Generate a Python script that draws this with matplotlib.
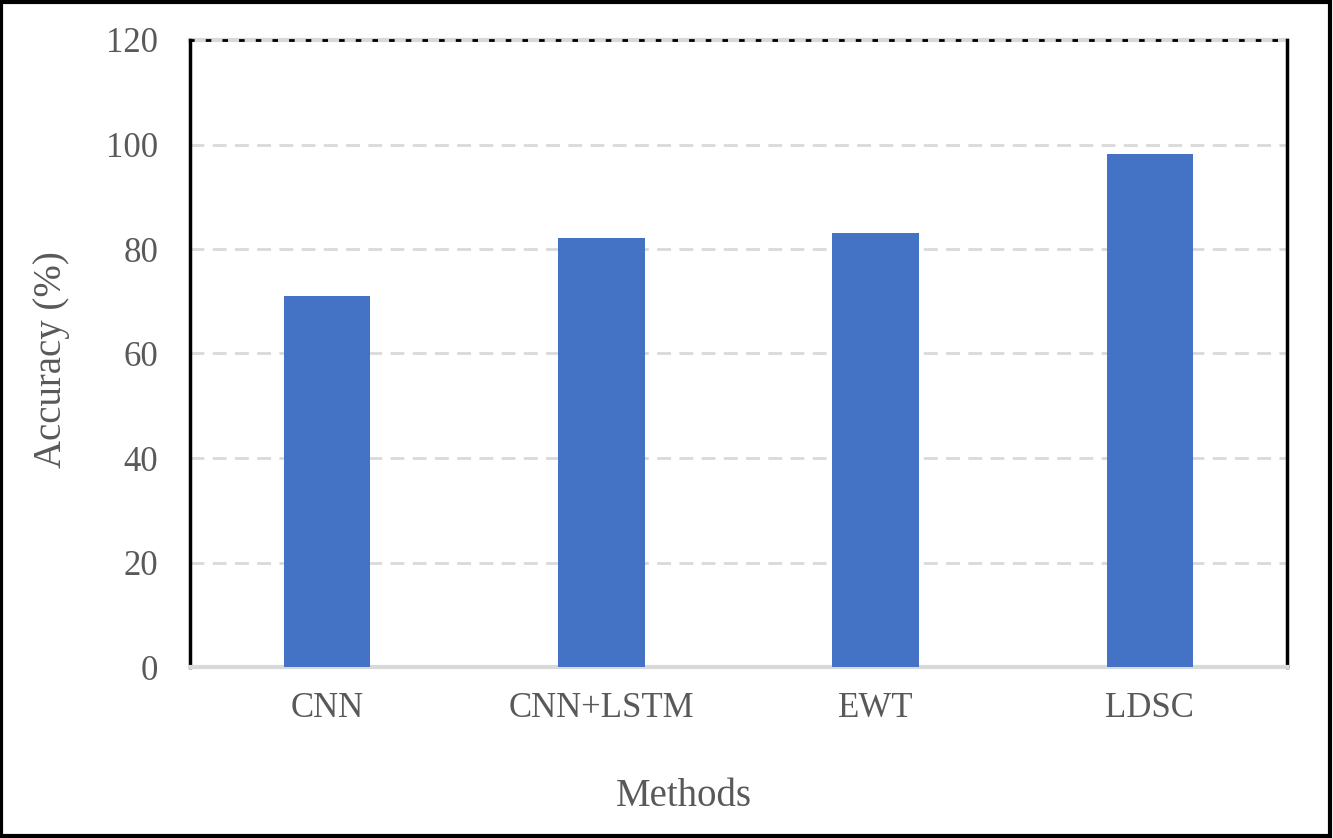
import numpy as np
import matplotlib
matplotlib.use("Agg")
import matplotlib.pyplot as plt
from matplotlib.patches import Rectangle

# ── Data ─────────────────────────────────────────────────────────────
methods = ["CNN", "CNN+LSTM", "EWT", "LDSC"]
accuracy = [71.0, 82.1, 83.1, 98.2]
yticks = [0, 20, 40, 60, 80, 100, 120]

plt.rcParams.update({
    "font.family": ["Liberation Serif", "DejaVu Serif"],
})

TXT = "#595959"
GRID = "#D9D9D9"

fig = plt.figure(figsize=(13.33, 8.38), dpi=100)
ax = fig.add_axes([190 / 1333, 1 - 667 / 838, 1097 / 1333, 627 / 838])

x = np.arange(len(methods))
ax.bar(x, accuracy, width=0.315, color="#4472C4", zorder=3)

ax.set_xlim(-0.5, len(methods) - 0.5)
ax.set_ylim(0, 120)
ax.set_yticks(yticks)
ax.set_xticks(x)
ax.set_xticklabels(methods)
ax.tick_params(axis="both", length=0, labelsize=25, colors=TXT)
ax.tick_params(axis="x", pad=18)
ax.tick_params(axis="y", pad=23)

# gridlines
ax.yaxis.grid(True, color=GRID, linestyle=(0, (5, 3)), linewidth=2, zorder=0)
ax.set_axisbelow(True)

# spines
ax.spines["left"].set_color("black")
ax.spines["left"].set_linewidth(2.5)
ax.spines["right"].set_color("black")
ax.spines["right"].set_linewidth(2.5)
ax.spines["bottom"].set_color(GRID)
ax.spines["bottom"].set_linewidth(3)
ax.spines["top"].set_color("black")
ax.spines["top"].set_linewidth(2)
ax.spines["top"].set_linestyle((0, (1, 5)))
ax.axhline(120, color=GRID, linewidth=3, zorder=1, clip_on=False)

ax.set_xlabel("Methods", fontsize=28, color=TXT, labelpad=38, x=0.45)
ax.set_ylabel("Accuracy (%)", fontsize=28, color=TXT, labelpad=26, y=0.49)

# outer frame
fig.patches.append(Rectangle((0.001, 0.002), 0.997, 0.996, transform=fig.transFigure,
                             fill=False, edgecolor="black", linewidth=3))

fig.savefig("out.png", dpi=100)
